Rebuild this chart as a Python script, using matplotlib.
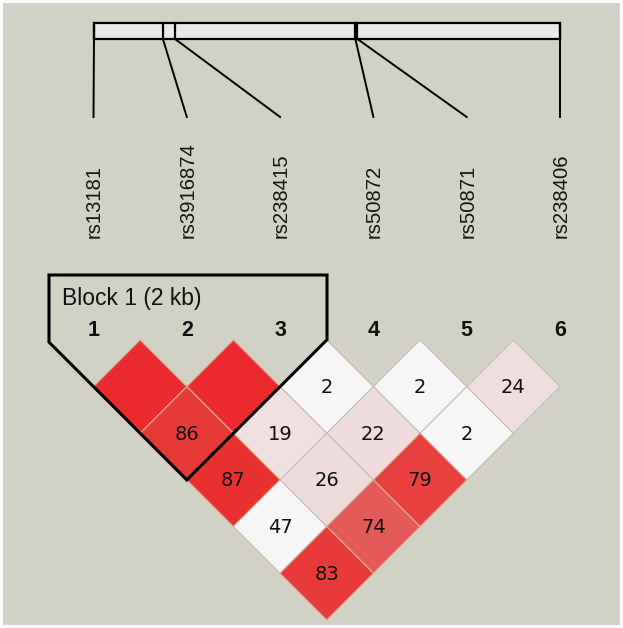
import matplotlib
matplotlib.use("Agg")
import matplotlib.pyplot as plt
from matplotlib.patches import Polygon, Rectangle
import numpy as np

# ---------------- data ----------------
snp_names = ["rs13181", "rs3916874", "rs238415", "rs50872", "rs50871", "rs238406"]
marker_numbers = ["1", "2", "3", "4", "5", "6"]
# relative genomic positions (kb) along the top bar
genomic_kb = [0.0, 1.70, 2.00, 6.45, 6.50, 11.5]
bar_start_kb, bar_end_kb = 0.0, 11.5
# pairwise D' values (x100); None = 100 (not shown)
pairs = [(1, 2), (2, 3), (3, 4), (4, 5), (5, 6),
         (1, 3), (2, 4), (3, 5), (4, 6),
         (1, 4), (2, 5), (3, 6),
         (1, 5), (2, 6),
         (1, 6)]
dprime = [None, None, 2, 2, 24,
          86, 19, 22, 2,
          87, 26, 79,
          47, 74,
          83]
cell_colors = ["#EA2A2E", "#EA2A2E", "#F6F6F6", "#F6F6F6", "#EFDEDE",
               "#E63A36", "#F0E0E0", "#EFDDDD", "#F6F6F6",
               "#E8312F", "#EEDCDC", "#E8403E",
               "#F6F6F6", "#E55A58",
               "#E83A3A"]
strong_ld = [True, True, False, False, False,
             True, False, False, False,
             True, False, True,
             False, True,
             True]
block_label = "Block 1 (2 kb)"
block_markers = (1, 3)

# ---------------- layout ----------------
W, H = 623, 628
fig = plt.figure(figsize=(W / 100, H / 100), dpi=100)
bg = "#D2D1C5"
fig.patch.set_facecolor("white")
ax = fig.add_axes([0, 0, 1, 1])
ax.set_xlim(0, W)
ax.set_ylim(H, 0)
ax.axis("off")
ax.add_patch(Rectangle((3, 3), W - 6, H - 6, facecolor=bg, edgecolor="none", zorder=0))

x0, step = 93.5, 93.3
half = step / 2
mx = [x0 + i * step for i in range(len(snp_names))]

# top bar
bx0, bx1 = 94, 560
def kb2px(v):
    return bx0 + (v - bar_start_kb) / (bar_end_kb - bar_start_kb) * (bx1 - bx0)
bar_top, bar_bot = 23, 39
ax.add_patch(Rectangle((bx0, bar_top), bx1 - bx0, bar_bot - bar_top,
                       facecolor="#E9E9E9", edgecolor="black", lw=1.6, zorder=2))
line_bot = 117
for i, kb in enumerate(genomic_kb):
    gx = kb2px(kb)
    ax.plot([gx, gx], [bar_top, bar_bot], color="black", lw=1.6, zorder=3)
    ax.plot([gx, mx[i]], [bar_bot, line_bot], color="black", lw=1.4, zorder=3)

# SNP labels
for i, name in enumerate(snp_names):
    ax.text(mx[i] + 1, 238, name, rotation=90, ha="center", va="bottom",
            fontsize=14.6, family="Liberation Sans", color="#151515")

# marker numbers
for i, n in enumerate(marker_numbers):
    ax.text(mx[i], 331, n, ha="center", va="center", fontsize=15.5,
            fontweight="bold", family="Liberation Sans", color="#111111")

# diamonds
y_top = 340
for (i, j), v, c, s in zip(pairs, dprime, cell_colors, strong_ld):
    d = j - i
    cx = (mx[i - 1] + mx[j - 1]) / 2
    cy = y_top + d * half
    ec = "#D9A98F" if s else "#C9BBBB"
    poly = Polygon([(cx, cy - half), (cx + half, cy), (cx, cy + half), (cx - half, cy)],
                   closed=True, facecolor=c, edgecolor=ec, lw=0.8, zorder=4)
    ax.add_patch(poly)
    if v is not None:
        ax.text(cx, cy + 1, str(v), ha="center", va="center", fontsize=14,
                family="DejaVu Sans", color="#111111", zorder=6)

# block outline
b1, b2 = block_markers
left_x = 49
right_x = 327
top_y = 275
bx_a = mx[b1 - 1]
bx_b = mx[b2 - 1]
bottom = ((bx_a + bx_b) / 2, y_top + (b2 - b1 + 1) * half)
# diagonals follow cell edges (slope 1)
left_join_y = bottom[1] - (bottom[0] - left_x)
right_join_y = bottom[1] - (right_x - bottom[0])
outline = [(left_x, top_y), (right_x, top_y), (right_x, right_join_y),
           bottom, (left_x, left_join_y)]
ax.add_patch(Polygon(outline, closed=True, fill=False, edgecolor="black",
                     lw=2.2, zorder=7, joinstyle="miter"))
ax.text(62, 298, block_label, ha="left", va="center", fontsize=16.5,
        family="Liberation Sans", color="#111111", zorder=8)

fig.savefig("out.png", dpi=100, facecolor=fig.get_facecolor())
